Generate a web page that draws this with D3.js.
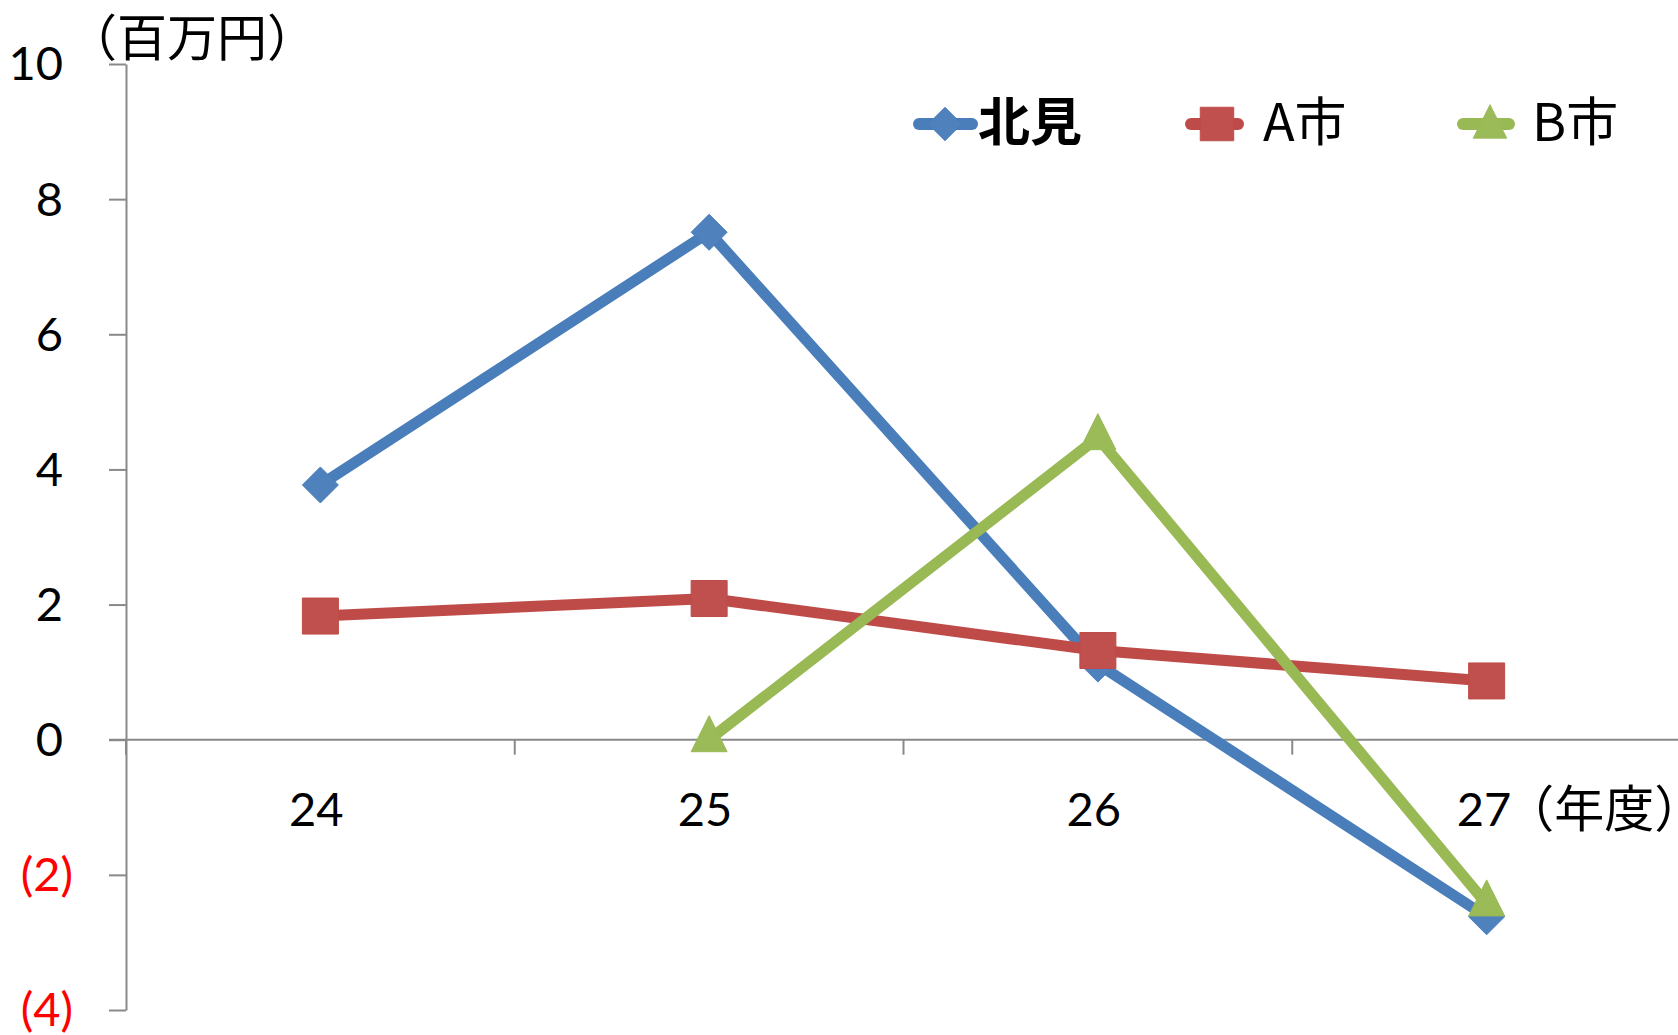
<!DOCTYPE html>
<html><head><meta charset="utf-8">
<script src="https://cdn.jsdelivr.net/npm/d3@7"></script>
<style>
html,body{margin:0;padding:0;background:#fff;}
svg{display:block;}
</style></head>
<body>
<svg id="chart" width="1678" height="1035"></svg>
<script>
// ---- data ----
const categories = ["24", "25", "26", "27"];
const seriesNames = ["北見", "A市", "B市"];
const kitami = [3.77, 7.51, 1.12, -2.62];
const cityA  = [1.83, 2.09, 1.32, 0.87];
const cityB  = [null, 0, 4.47, -2.43];
const yTicks = [-4, -2, 0, 2, 4, 6, 8, 10];
const yUnitLabel = "（百万円）";
const xUnitLabel = "（年度）";

const lineColors   = ["#4A7EBB", "#BE4B48", "#98B954"];
const markerColors = ["#4F81BD", "#C0504D", "#9BBB59"];
const markerTypes  = ["diamond", "square", "triangle"];
const seriesData = [kitami, cityA, cityB];

const svg = d3.select("#chart");
const latin = "Lato, 'Open Sans', sans-serif";
const cjk = "'Noto Sans CJK JP', 'Noto Sans', sans-serif";

const x = d3.scaleBand().domain(categories).range([126, 1681]).padding(0);
const y = d3.scaleLinear().domain([-4, 10]).range([1010, 64]);
const cx = c => x(c) + x.bandwidth() / 2;

const axisColor = "#898989";

// y axis
const yAxis = d3.axisLeft(y).tickValues(yTicks).tickSize(17).tickSizeOuter(0)
  .tickFormat(d => d < 0 ? `(${-d})` : `${d}`);
const gy = svg.append("g").attr("transform", "translate(126,0)").call(yAxis);
gy.select(".domain").attr("stroke", axisColor).attr("stroke-width", 2);
gy.selectAll(".tick line").attr("stroke", axisColor).attr("stroke-width", 2);
gy.selectAll(".tick text")
  .attr("x", d => d < 0 ? -53 : -63)
  .attr("dy", "0.34em")
  .attr("fill", d => d < 0 ? "#FF0000" : "#000")
  .style("font-family", latin).style("font-size", "47px");

// x axis (at zero)
const y0 = y(0);
const xAxis = d3.axisBottom(x).tickSize(0).tickSizeOuter(0);
const gx = svg.append("g").attr("transform", `translate(0,${y0})`).call(xAxis);
gx.select(".domain").remove();
gx.append("line").attr("x1", 109).attr("x2", 1678).attr("y1", 0).attr("y2", 0)
  .attr("stroke", axisColor).attr("stroke-width", 2);
gx.selectAll(".tick text")
  .attr("y", 86).attr("dy", 0).attr("dx", -4)
  .attr("fill", "#000")
  .style("font-family", latin).style("font-size", "47px");
// last category label carries the unit
const lastText = gx.selectAll(".tick text").filter(d => d === categories[categories.length - 1]);
lastText.attr("text-anchor", "start").attr("dx", 0).attr("x", -30);
lastText.append("tspan").attr("dx", -7).attr("dy", 1).text(xUnitLabel)
  .style("font-family", cjk).style("font-size", "50px");
// category boundary ticks
gx.selectAll(".bt").data(categories).enter().append("line")
  .attr("class", "bt")
  .attr("x1", d => x(d)).attr("x2", d => x(d))
  .attr("y1", 0).attr("y2", 15)
  .attr("stroke", axisColor).attr("stroke-width", 2);

// unit label (y)
svg.append("text").attr("x", 67).attr("y", 56).text(yUnitLabel)
  .style("font-family", cjk).style("font-size", "50px").attr("fill", "#000");

// markers
function markerPath(type) {
  if (type === "diamond") return "M0,-18L18,0L0,18L-18,0Z";
  if (type === "square") return "M-18,-18H18V18H-18Z";
  return "M0,-24L18,12L-18,12Z";
}

const line = d3.line()
  .defined(d => d.v !== null)
  .x(d => cx(d.c)).y(d => y(d.v));

seriesData.forEach((vals, i) => {
  const pts = categories.map((c, j) => ({c, v: vals[j]}));
  const g = svg.append("g");
  g.append("path").datum(pts).attr("d", line)
    .attr("fill", "none").attr("stroke", lineColors[i]).attr("stroke-width", 11)
    .attr("stroke-linejoin", "round").attr("stroke-linecap", "round");
  g.selectAll(".m").data(pts.filter(d => d.v !== null)).enter().append("path")
    .attr("transform", d => `translate(${cx(d.c)},${y(d.v)})`)
    .attr("d", markerPath(markerTypes[i]))
    .attr("fill", markerColors[i]).attr("stroke", lineColors[i]).attr("stroke-width", 1);
});

// legend
const legendMarkerX = [945, 1217, 1490];
const legendLine = [[-26, 27], [-26, 21], [-27, 19]];
const legendTextX = [978, 1263, 1532];
seriesNames.forEach((name, i) => {
  const g = svg.append("g").attr("transform", `translate(${legendMarkerX[i]},124)`);
  g.append("line").attr("x1", legendLine[i][0]).attr("x2", legendLine[i][1]).attr("y1", 0).attr("y2", 0)
    .attr("stroke", lineColors[i]).attr("stroke-width", 12).attr("stroke-linecap", "round");
  g.append("path")
    .attr("transform", markerTypes[i] === "triangle" ? "translate(0,3) scale(0.93)" : "scale(0.93)")
    .attr("d", markerPath(markerTypes[i]))
    .attr("fill", markerColors[i]).attr("stroke", lineColors[i]).attr("stroke-width", 1);
  svg.append("text").attr("x", legendTextX[i]).attr("y", 141).text(name)
    .style("font-family", cjk).style("font-size", "52px")
    .style("font-weight", i === 0 ? "bold" : "normal").attr("fill", "#000");
});
</script>
</body></html>
